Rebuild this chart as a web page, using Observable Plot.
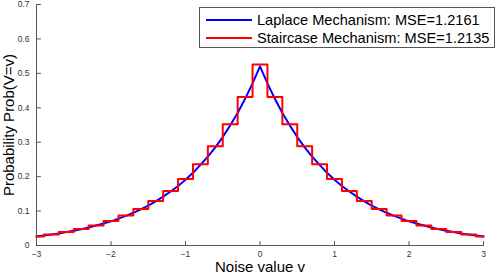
<!DOCTYPE html>
<html>
<head>
<meta charset="utf-8">
<script src="https://cdn.jsdelivr.net/npm/d3@7"></script>
<script src="https://cdn.jsdelivr.net/npm/@observablehq/plot@0.6"></script>
<style>
  html, body { margin: 0; padding: 0; background: #fff; }
  #wrap { position: relative; width: 499px; height: 273px; font-family: "Liberation Sans", Arial, Helvetica, sans-serif; }
  #legend { position: absolute; left: 199px; top: 7px; width: 296px; height: 41px; border: 1px solid #555; background: #fff; box-sizing: border-box; }
  .row { position: absolute; left: 0; height: 18px; line-height: 18px; font-size: 14.6px; color: #000; white-space: nowrap; }
  .swatch { position: absolute; left: 6px; top: 8px; width: 46px; height: 0; border-top: 2px solid; }
  .lbl { position: absolute; left: 57px; top: 0; }
</style>
</head>
<body>
<div id="wrap"></div>
<script>
// ---- data ----
const seriesNames = ["Laplace Mechanism: MSE=1.2161", "Staircase Mechanism: MSE=1.2135"];
const seriesColors = ["#0000ff", "#ff0000"];

const laplaceX = [-3.0,-2.9,-2.8,-2.7,-2.6,-2.5,-2.4,-2.3,-2.2,-2.1,-2.0,-1.9,-1.8,-1.7,-1.6,-1.5,-1.4,-1.3,-1.2,-1.1,-1.0,-0.9,-0.8,-0.7,-0.6,-0.5,-0.4,-0.3,-0.2,-0.1,0.0,
  0.1,0.2,0.3,0.4,0.5,0.6,0.7,0.8,0.9,1.0,1.1,1.2,1.3,1.4,1.5,1.6,1.7,1.8,1.9,2.0,2.1,2.2,2.3,2.4,2.5,2.6,2.7,2.8,2.9,3.0];
const laplaceY = [0.026,0.029,0.032,0.035,0.039,0.043,0.047,0.052,0.058,0.064,0.070,0.078,0.086,0.095,0.105,0.116,0.128,0.142,0.157,0.173,0.191,0.211,0.234,0.258,0.285,0.315,0.349,0.385,0.426,0.471,0.520,
  0.471,0.426,0.385,0.349,0.315,0.285,0.258,0.234,0.211,0.191,0.173,0.157,0.142,0.128,0.116,0.105,0.095,0.086,0.078,0.070,0.064,0.058,0.052,0.047,0.043,0.039,0.035,0.032,0.029,0.026];

const stairX = [-3.0,-2.9,-2.7,-2.5,-2.3,-2.1,-1.9,-1.7,-1.5,-1.3,-1.1,-0.9,-0.7,-0.5,-0.3,-0.1,
  0.1,0.3,0.5,0.7,0.9,1.1,1.3,1.5,1.7,1.9,2.1,2.3,2.5,2.7,2.9,3.0];
const stairY = [0.026,0.032,0.039,0.048,0.058,0.071,0.087,0.106,0.129,0.158,0.193,0.236,0.288,0.352,0.431,0.526,
  0.431,0.352,0.288,0.236,0.193,0.158,0.129,0.106,0.087,0.071,0.058,0.048,0.039,0.032,0.026,0.026];

const xTicks = [-3,-2,-1,0,1,2,3];
const xTickLabels = ["\u22123","\u22122","\u22121","0","1","2","3"];
const yTicks = [0,0.1,0.2,0.3,0.4,0.5,0.6,0.7];
const yTickLabels = ["0","0.1","0.2","0.3","0.4","0.5","0.6","0.7"];
const xDomain = [-3, 3];
const yDomain = [0, 0.7];
const xLabel = "Noise value v";
const yLabel = "Probability Prob(V=v)";

// ---- build ----
const laplace = laplaceX.map((x, i) => ({x, y: laplaceY[i]}));
const stair = stairX.map((x, i) => ({x, y: stairY[i]}));
const axisColor = "#555";
const tickColor = "#333";
const tickShape = {draw(context, l) { context.moveTo(0, 0); context.lineTo(0, -l); }};

const chart = Plot.plot({
  width: 499,
  height: 273,
  marginLeft: 36,
  marginRight: 16,
  marginTop: 4,
  marginBottom: 28,
  style: {fontFamily: "'Liberation Sans', Arial, Helvetica, sans-serif", background: "#fff"},
  x: {domain: xDomain},
  y: {domain: yDomain},
  marks: [
    Plot.axisX(xTicks, {tickSize: 0, tickPadding: 5, fontSize: 8.5, fill: tickColor, tickFormat: d => xTickLabels[xTicks.indexOf(d)], label: null}),
    Plot.axisY(yTicks, {tickSize: 0, tickPadding: 7, fontSize: 8.5, fill: tickColor, tickFormat: d => yTickLabels[yTicks.indexOf(d)], label: null}),
    Plot.ruleY([yDomain[0]], {x1: xDomain[0], x2: xDomain[1], stroke: axisColor}),
    Plot.ruleX([xDomain[0]], {y1: yDomain[0], y2: yDomain[1], stroke: axisColor}),
    Plot.vector(xTicks, {x: d => d, y: yDomain[0], length: 4, anchor: "start", shape: tickShape, stroke: axisColor, strokeWidth: 1}),
    Plot.vector(yTicks, {x: xDomain[0], y: d => d, length: 4, rotate: 90, anchor: "start", shape: tickShape, stroke: axisColor, strokeWidth: 1}),
    Plot.line(laplace, {x: "x", y: "y", stroke: seriesColors[0], strokeWidth: 2}),
    Plot.line(stair, {x: "x", y: "y", curve: "step-after", stroke: seriesColors[1], strokeWidth: 2}),
    Plot.text([xLabel], {frameAnchor: "bottom", lineAnchor: "bottom", dy: 26, fontSize: 15, fill: "#000", text: d => d}),
    Plot.text([yLabel], {frameAnchor: "left", textAnchor: "middle", lineAnchor: "top", dx: -33, rotate: -90, fontSize: 15, fill: "#000", text: d => d})
  ]
});

const wrap = document.getElementById("wrap");
wrap.appendChild(chart);

const legend = document.createElement("div");
legend.id = "legend";
seriesNames.forEach((name, i) => {
  const row = document.createElement("div");
  row.className = "row";
  row.style.top = (i === 0 ? 3 : 21) + "px";
  row.style.width = "100%";
  const sw = document.createElement("div");
  sw.className = "swatch";
  sw.style.borderTopColor = seriesColors[i];
  const lbl = document.createElement("span");
  lbl.className = "lbl";
  lbl.textContent = name;
  row.appendChild(sw);
  row.appendChild(lbl);
  legend.appendChild(row);
});
wrap.appendChild(legend);
</script>
</body>
</html>
